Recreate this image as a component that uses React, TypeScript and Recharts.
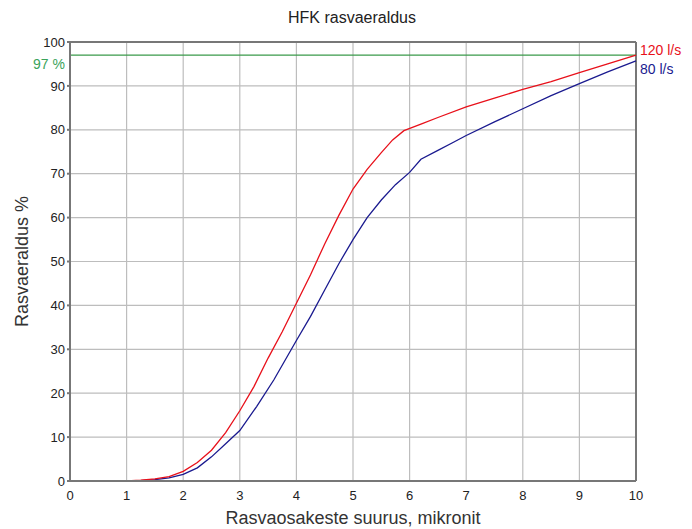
import { LineChart, Line, XAxis, YAxis, CartesianGrid, ReferenceLine, Label } from "recharts";

// particle size, microns
const size120 = [1, 1.25, 1.5, 1.75, 2, 2.25, 2.5, 2.75, 3, 3.25, 3.5, 3.75, 4, 4.25, 4.5, 4.75, 5, 5.25, 5.5, 5.7, 5.9, 6.2, 6.5, 7, 7.5, 8, 8.5, 9, 9.5, 10];
const eff120 = [0, 0.2, 0.5, 1, 2.2, 4.2, 7, 11, 16, 21.5, 28, 34, 40.5, 47, 54, 60.5, 66.5, 71, 74.8, 77.7, 79.8, 81.3, 82.8, 85.2, 87.2, 89.2, 91, 93, 95, 97];

const size80 = [1, 1.25, 1.5, 1.75, 2, 2.25, 2.5, 2.75, 3, 3.3, 3.6, 4, 4.25, 4.5, 4.75, 5, 5.25, 5.5, 5.75, 6, 6.2, 6.5, 6.75, 7, 7.5, 8, 8.5, 9, 9.5, 10];
const eff80 = [0, 0.1, 0.3, 0.7, 1.5, 3, 5.5, 8.5, 11.5, 17, 23, 32, 37.5, 43.5, 49.5, 55, 60, 64, 67.5, 70.3, 73.3, 75.3, 77, 78.7, 81.8, 84.8, 87.8, 90.5, 93.2, 95.7];

const xTicks = [0, 1, 2, 3, 4, 5, 6, 7, 8, 9, 10];
const yTicks = [0, 10, 20, 30, 40, 50, 60, 70, 80, 90, 100];
const target = 97;

const data120 = size120.map((x, i) => ({ x, y: eff120[i] }));
const data80 = size80.map((x, i) => ({ x, y: eff80[i] }));

const font = "'Liberation Sans', Arial, sans-serif";

const endLabel = (text: string, color: string, n: number, dy: number) => (p: any) => {
  if (p.index !== n - 1) return null;
  return (
    <text x={p.x + 4} y={p.y + dy} fill={color} fontSize={14} fontFamily={font}>
      {text}
    </text>
  );
};

const targetLabel = (p: any) => {
  const vb = p.viewBox;
  return (
    <text x={vb.x - 5} y={vb.y + 14} textAnchor="end" fill="#3aa35a" fontSize={14} fontFamily={font}>
      97 %
    </text>
  );
};

export default function App() {
  return (
    <div style={{ position: "relative", width: 692, height: 529, fontFamily: font }}>
      <style>{"body{margin:0}"}</style>
      <div style={{ position: "absolute", top: 9, left: 0, width: 704, textAlign: "center", fontSize: 16, color: "#222" }}>
        HFK rasvaeraldus
      </div>
      <LineChart width={692} height={529} margin={{ top: 42, right: 56, left: 30, bottom: 18 }}>
        <CartesianGrid stroke="#bdbdbd" strokeWidth={1.2} />
        <XAxis
          type="number"
          dataKey="x"
          domain={[0, 10]}
          ticks={xTicks}
          height={30}
          stroke="#777"
          strokeWidth={2}
          tickLine={false}
          tick={{ fill: "#222", fontSize: 13, fontFamily: font }}
          tickMargin={4}
        >
          <Label value="Rasvaosakeste suurus, mikronit" position="insideBottom" offset={-13} fill="#333" fontSize={18} fontFamily={font} />
        </XAxis>
        <YAxis
          type="number"
          domain={[0, 100]}
          ticks={yTicks}
          width={40}
          stroke="#777"
          strokeWidth={2}
          tickSize={3}
          tick={{ fill: "#222", fontSize: 13, fontFamily: font }}
          interval={0}
        >
          <Label value="Rasvaeraldus %" angle={-90} position="insideLeft" offset={-8} style={{ textAnchor: "middle" }} fill="#333" fontSize={18} fontFamily={font} />
        </YAxis>
        <ReferenceLine y={100} stroke="#777" strokeWidth={2} />
        <ReferenceLine x={10} stroke="#777" strokeWidth={2} />
        <ReferenceLine y={target} stroke="#3a9a4a" strokeWidth={1.3} label={targetLabel} />
        <Line
          data={data80}
          dataKey="y"
          type="linear"
          stroke="#1a1a8f"
          strokeWidth={1.3}
          dot={false}
          isAnimationActive={false}
          label={endLabel("80 l/s", "#1a1a8f", data80.length, 13)}
        />
        <Line
          data={data120}
          dataKey="y"
          type="linear"
          stroke="#e8101a"
          strokeWidth={1.3}
          dot={false}
          isAnimationActive={false}
          label={endLabel("120 l/s", "#e8101a", data120.length, 0)}
        />
      </LineChart>
    </div>
  );
}
